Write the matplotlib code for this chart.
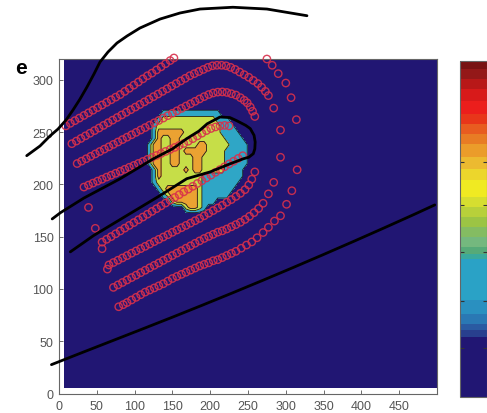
import numpy as np
import matplotlib
matplotlib.use("Agg")
import matplotlib.pyplot as plt
from matplotlib.colors import ListedColormap, BoundaryNorm
from matplotlib.cm import ScalarMappable

# ---------------- data ----------------
x_ticks = [0, 50, 100, 150, 200, 250, 300, 350, 400, 450]
y_ticks = [0, 50, 100, 150, 200, 250, 300]
x_limits = [0, 500]
y_limits = [0, 320]

# extent of the gridded field (background)
field_x_edges = [6, 500]
field_y_edges = [5, 320]

# blob grid (level codes: 0 background, 1 cyan, 2 yellow-green, 3 orange)
blob_x0, blob_dx, blob_ncol = 114, 6, 24
blob_y0, blob_dy = 172, 6
blob_rows_top_to_bottom = [
    "000000000000000000000000",  # y=274
    "000011111111111110000000",
    "000122222222222211100000",
    "001222222222222221110000",
    "001333333222222221111000",
    "001322332222222222111100",
    "013322332222332222211110",
    "013322332333332222111110",
    "013322332223322222111110",
    "013322332223322222111110",
    "001322222323322222111100",
    "001322222222211111111100",
    "001222222222211111111000",
    "000123333333211111110000",
    "000012333333211111100000",
    "000000233333211100000000",
    "000000000233210000000000",
    "000000000000000000000000",  # y=172
]

# red circle tracks
track1_x = [9, 15, 21, 27, 33, 39, 45, 51, 57, 63, 69, 75, 81, 87, 93, 99, 105, 111, 117, 123, 129, 135, 141, 147, 152,
            275, 282, 290, 300, 307, 314, 315, 308, 301,
            293, 285, 277, 270, 262, 255, 248, 241, 234, 228, 222, 216, 210, 204, 198, 192, 186, 180, 174, 168,
            162, 156, 150, 144, 138, 132, 126, 120, 114, 108, 102, 96, 90, 85, 79]
track1_y = [256, 258.5, 261, 263.5, 266, 268.5, 271, 273.5, 276, 278.5, 281, 283.5, 286, 289, 292, 295, 298, 301, 304,
            306.5, 309.5, 312.5, 315.5, 318.5, 321,
            320, 314, 306, 297, 283, 262, 214, 194, 181,
            170, 165, 159, 154, 149, 145, 142, 139, 136, 134, 132, 130, 128, 127, 125, 123.5, 122, 120, 118, 116,
            114, 112, 110, 107.5, 105, 103, 101, 99, 97, 94.5, 92, 89.5, 87, 85, 83]

track2_x = [17, 23, 29, 35, 41, 47, 53, 59, 65, 71, 77, 83, 89, 95, 101, 107, 113, 119, 125, 131, 137, 143, 149, 155,
            161, 167, 173, 179, 185, 191, 197, 203, 209, 215, 221, 227, 233, 239, 245, 251, 257, 263, 268, 273, 277,
            284, 293, 293, 284, 277,
            270, 264, 258, 252, 246, 240, 234, 228, 222, 216, 210, 204, 198, 192, 186, 180, 174, 168, 162, 156,
            150, 144, 138, 132, 126, 120, 114, 108, 102, 96, 90, 84, 78, 72]
track2_y = [239, 241.5, 244, 246.5, 249, 251.5, 254, 256.5, 259, 261.5, 264, 266.5, 269, 271.5, 274, 276.5, 279, 281.5,
            284, 286.5, 289, 291.5, 294, 296.5, 299, 301.5, 304, 306, 308, 310, 312, 313.5, 314, 314, 313.5, 312,
            310, 307.5, 305, 302.5, 299.5, 296.5, 293, 289, 285,
            273, 252, 226, 202, 191,
            182, 177, 173, 169.5, 166.5, 163.8, 161.6, 159.5, 157.4, 155.6, 154.3, 152.3, 150.3, 148.3, 146, 143.7,
            141.3, 139, 136.6, 134.3, 132, 129.6, 127.3, 124.9, 122.6, 120.3, 117.9, 115.6, 113.2, 110.9, 108.6,
            106.2, 103.9, 101.5]

track3_x = [24, 30, 36, 42, 48, 54, 60, 66, 72, 78, 84, 90, 96, 102, 108, 114, 120, 126, 132, 138, 144, 150, 156, 162,
            168, 174, 180, 186, 192, 198, 204, 210, 216, 222, 228, 234, 240, 245, 249, 253, 256, 259,
            259, 255, 251, 246, 240, 234, 228, 222, 216, 210, 204, 198, 192, 186, 180, 174, 168, 162, 156, 150,
            144, 138, 132, 126, 120, 114, 108, 102, 96, 90, 84, 78, 72, 66, 64]
track3_y = [220, 222.3, 224.6, 226.9, 229.2, 231.5, 233.8, 236, 238.3, 240.6, 242.9, 245.2, 247.5, 249.8, 252.1, 254.4,
            256.7, 259, 261.2, 263.5, 265.8, 268.1, 270.4, 272.7, 275, 277.2, 279.5, 281.8, 284, 286, 287.5, 288.3,
            288.5, 288, 286.8, 285.5, 283, 280.5, 278, 274, 270, 265,
            212, 205, 199.5, 195, 191.5, 188.5, 185.5, 183, 180, 177.5, 175, 172.5, 170, 167.5, 165.3, 163, 160.8,
            158.6, 156.4, 154.2, 151.9, 149.7, 147.5, 145.3, 143, 140.8, 138.6, 136.4, 134.2, 131.9, 129.7, 127.5,
            125.3, 123, 119]

track4_x = [33, 39, 45, 51, 57, 63, 69, 75, 81, 87, 93, 99, 105, 111, 117, 123, 129, 135, 141, 147, 153, 159, 165,
            171, 177, 183, 189, 195, 201, 207, 213, 219, 225,
            243, 237, 231, 225, 219, 213, 207, 201, 195, 189, 183, 177, 171, 165, 159, 153, 147, 141, 135, 129,
            123, 117, 111, 105, 99, 93, 87, 81, 75, 69, 63, 57,
            57, 48, 39]
track4_y = [197.5, 199.4, 201.3, 203.2, 205, 207, 208.8, 210.7, 212.6, 214.5, 216.4, 218.2, 220.1, 222, 224, 225.8,
            227.7, 229.6, 231.6, 233.5, 235.4, 237.3, 239.2, 241.3, 243.8, 246.4, 249, 251.5, 253.5, 255, 256,
            256.5, 256,
            227.5, 224.9, 222.2, 219.6, 216.9, 214.2, 211.6, 208.9, 206.2, 203.5, 200.9, 198.2, 195.5, 192.9, 190.2,
            187.5, 184.9, 182.2, 179.5, 176.8, 174.2, 171.5, 168.8, 166.2, 163.5, 160.8, 158.2, 155.5, 152.8, 150.1,
            147.5, 144.8,
            138.5, 158, 178]

# black curves
curve_top_x = [-42.7, -25.1, -11.9, -1.3, 9.3, 18.5, 27.8, 37, 46.3, 54.2, 64.8, 76.7, 90, 107, 133.6, 160, 186.5,
               230, 275, 328]
curve_top_y = [227.5, 236.8, 246.4, 253, 261.6, 271.2, 281.7, 293.2, 305.7, 317.1, 326.7, 335.3, 342, 349.6, 358.2,
               364, 367.8, 369.5, 367.8, 361.4]
curve_loop_x = [-9, 2, 33, 81, 125, 150, 169, 185, 196, 213, 226, 235, 247, 253, 258, 259.5, 259, 257, 251, 244,
                226.5, 200, 169, 134, 90, 46, 15]
curve_loop_y = [167, 173, 187, 205.5, 224.6, 234, 243.8, 251, 258, 264.5, 264, 261, 256.5, 253.4, 247, 240.6, 234,
                229.4, 226, 224.6, 219.8, 212, 205.5, 189.5, 170.4, 151.2, 135.5]
curve_low_x = [-10, 30, 70, 110, 150, 190, 230, 270, 310, 350, 390, 430, 470, 497]
curve_low_y = [27.6, 39, 50.3, 61.6, 73, 84.6, 96.4, 108.4, 120.6, 133, 145.6, 158.4, 171.4, 180.4]

# colorbar levels (bottom to top) and colours
cbar_bounds = [0, 0.178, 0.198, 0.218, 0.248, 0.287, 0.411, 0.426, 0.446, 0.475, 0.505, 0.535, 0.564, 0.594,
               0.644, 0.678, 0.713, 0.752, 0.782, 0.812, 0.842, 0.881, 0.916, 0.946, 0.975, 1.0]
cbar_colors = ['#211673', '#283f8e', '#2a5aa2', '#2a78b4', '#2a90c0', '#2aa2c6', '#3aa99c', '#56aa78', '#74b87e',
               '#84bc62', '#9cc444', '#b8d03a', '#d6de30', '#f0ea22', '#ecd62c', '#ecba30', '#eb9c2a', '#e87c24',
               '#e85c20', '#e8361a', '#ec1e1c', '#d81a1a', '#b81818', '#941818', '#781212']
cbar_ticks = [0.146, 0.286, 0.431, 0.571, 0.699]

# ---------------- style ----------------
NAVY = '#211673'
BLOB_COLORS = [NAVY, '#2fa6c6', '#c6de48', '#eba232']
RED = '#d8304c'

plt.rcParams['font.family'] = ['Liberation Sans', 'DejaVu Sans']

fig = plt.figure(figsize=(4.87, 4.14), dpi=100)
ax = fig.add_axes([59.0 / 487, 19.5 / 414, 378.0 / 487, 334.5 / 414])

# background field
ax.pcolormesh(field_x_edges, field_y_edges, np.zeros((1, 1)), cmap=ListedColormap([NAVY]), shading='flat',
              zorder=0)

# blob
Z = np.array([[int(c) for c in row] for row in blob_rows_top_to_bottom[::-1]], dtype=float)
bx = blob_x0 + blob_dx * np.arange(blob_ncol)
by = blob_y0 + blob_dy * np.arange(Z.shape[0])
ax.contourf(bx, by, Z, levels=[-0.5, 0.5, 1.5, 2.5, 3.5], colors=BLOB_COLORS, zorder=1)
ax.contour(bx, by, Z, levels=[0.5, 1.5, 2.5], colors='#1c1c1c', linewidths=0.6, zorder=2)

# circles
for tx, ty in [(track1_x, track1_y), (track2_x, track2_y), (track3_x, track3_y), (track4_x, track4_y)]:
    ax.scatter(tx, ty, s=28, facecolors='none', edgecolors=RED, linewidths=1.0, alpha=0.9,
               clip_on=False, zorder=4)

# black curves
for cx, cy in [(curve_top_x, curve_top_y), (curve_loop_x, curve_loop_y), (curve_low_x, curve_low_y)]:
    ax.plot(cx, cy, color='black', lw=2.0, clip_on=False, zorder=5, solid_capstyle='round',
            solid_joinstyle='round')

ax.set_xlim(x_limits)
ax.set_ylim(y_limits)
ax.set_xticks(x_ticks)
ax.set_yticks(y_ticks)
ax.tick_params(direction='in', length=3, width=0.6, color='#555555', labelcolor='#555555', labelsize=9)
ax.tick_params(axis='x', pad=5)
ax.tick_params(axis='y', pad=4)
for sp in ax.spines.values():
    sp.set_color('#666666')
    sp.set_linewidth(0.8)

fig.text(21 / 487, (414 - 69) / 414, 'e', fontsize=15, fontweight='bold', family='Liberation Sans',
         ha='center', va='center')

# colorbar
cax = fig.add_axes([460.0 / 487, 16.0 / 414, 27.0 / 487, 336.5 / 414])
sm = ScalarMappable(norm=BoundaryNorm(cbar_bounds, len(cbar_colors)), cmap=ListedColormap(cbar_colors))
cb = fig.colorbar(sm, cax=cax, spacing='proportional')
cb.set_ticks(cbar_ticks)
cb.ax.tick_params(direction='in', length=3, width=0.8, color='#333333', left=True, right=True,
                  labelleft=False, labelright=False)
cb.outline.set_edgecolor('#666666')
cb.outline.set_linewidth(0.8)

fig.savefig('out.png', dpi=100)
